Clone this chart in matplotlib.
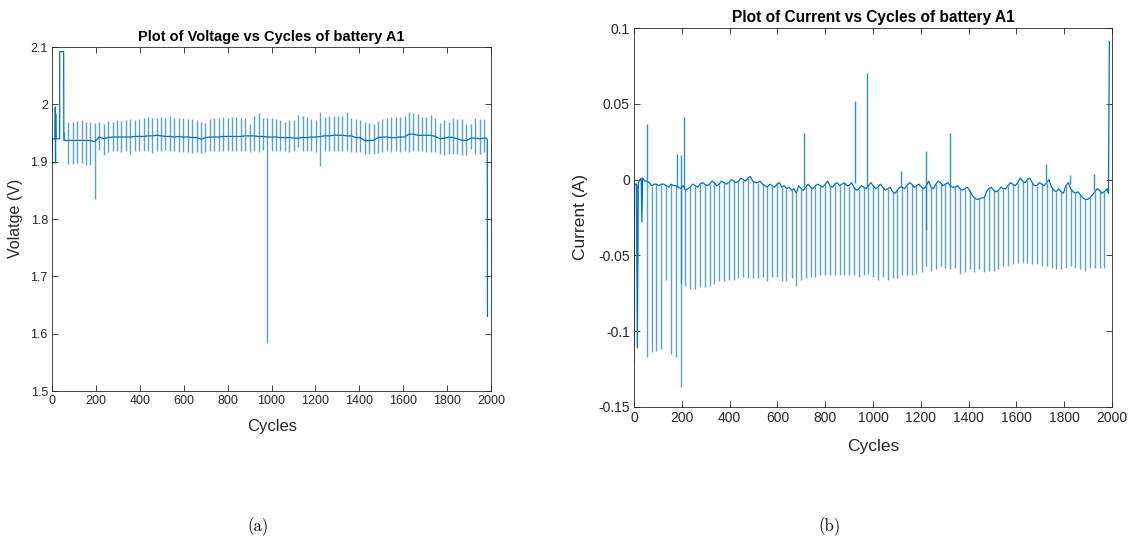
import numpy as np
import matplotlib
matplotlib.use("Agg")
import matplotlib.pyplot as plt
from matplotlib.ticker import FuncFormatter

# ---------------- data ----------------
spike_cycles = [54, 74, 94, 114, 135, 155, 175, 195, 215, 235, 256, 276, 296, 316, 336, 356,
                376, 397, 417, 437, 457, 477, 497, 517, 538, 558, 578, 598, 618, 638, 659, 679,
                699, 719, 739, 759, 779, 800, 820, 840, 860, 880, 900, 920, 941, 961, 981, 1001,
                1021, 1041, 1062, 1082, 1102, 1122, 1142, 1162, 1182, 1203, 1223, 1243, 1263, 1283,
                1303, 1323, 1344, 1364, 1384, 1404, 1424, 1444, 1465, 1485, 1505, 1525, 1545, 1565,
                1585, 1606, 1626, 1646, 1666, 1686, 1706, 1726, 1747, 1767, 1787, 1807, 1827, 1847,
                1868, 1888, 1908, 1928, 1948, 1968]

# Voltage: baseline at each spike cycle, spike top and spike bottom
volt_base = [1.937, 1.937, 1.937, 1.937, 1.937, 1.937, 1.937, 1.935, 1.943, 1.940, 1.942, 1.943,
             1.943, 1.943, 1.943, 1.943, 1.944, 1.944, 1.944, 1.945, 1.945, 1.946, 1.945, 1.944,
             1.944, 1.943, 1.944, 1.943, 1.943, 1.942, 1.942, 1.939, 1.942, 1.943, 1.943, 1.943,
             1.944, 1.944, 1.944, 1.944, 1.944, 1.945, 1.945, 1.945, 1.944, 1.944, 1.943, 1.943,
             1.943, 1.942, 1.942, 1.942, 1.941, 1.941, 1.942, 1.942, 1.943, 1.943, 1.944, 1.945,
             1.945, 1.946, 1.946, 1.946, 1.945, 1.945, 1.942, 1.942, 1.937, 1.937, 1.937, 1.942,
             1.943, 1.943, 1.942, 1.942, 1.943, 1.943, 1.948, 1.948, 1.946, 1.946, 1.946, 1.946,
             1.944, 1.940, 1.941, 1.943, 1.942, 1.940, 1.937, 1.937, 1.941, 1.941, 1.940, 1.941]
volt_high = [1.952, 1.969, 1.970, 1.971, 1.972, 1.970, 1.969, 1.968, 1.970, 1.966, 1.971, 1.970,
             1.972, 1.971, 1.973, 1.974, 1.972, 1.975, 1.976, 1.978, 1.976, 1.977, 1.978, 1.977,
             1.979, 1.976, 1.977, 1.976, 1.975, 1.974, 1.972, 1.969, 1.967, 1.975, 1.976, 1.977,
             1.978, 1.977, 1.978, 1.978, 1.977, 1.976, 1.966, 1.979, 1.985, 1.976, 1.977, 1.977,
             1.975, 1.972, 1.970, 1.972, 1.973, 1.981, 1.979, 1.978, 1.975, 1.972, 1.986, 1.978,
             1.979, 1.980, 1.979, 1.980, 1.986, 1.977, 1.975, 1.972, 1.970, 1.968, 1.966, 1.971,
             1.975, 1.976, 1.978, 1.978, 1.978, 1.980, 1.987, 1.985, 1.984, 1.978, 1.978, 1.981,
             1.976, 1.968, 1.973, 1.970, 1.977, 1.974, 1.974, 1.965, 1.966, 1.977, 1.974, 1.974]
volt_low = [1.937, 1.896, 1.896, 1.897, 1.898, 1.895, 1.894, 1.835, 1.921, 1.912, 1.916, 1.918,
            1.918, 1.917, 1.918, 1.914, 1.918, 1.919, 1.918, 1.918, 1.915, 1.919, 1.919, 1.920,
            1.918, 1.918, 1.917, 1.916, 1.917, 1.915, 1.916, 1.915, 1.917, 1.918, 1.918, 1.919,
            1.918, 1.918, 1.919, 1.919, 1.918, 1.918, 1.917, 1.918, 1.917, 1.920, 1.583, 1.918,
            1.918, 1.918, 1.919, 1.917, 1.918, 1.925, 1.918, 1.918, 1.918, 1.917, 1.893, 1.918,
            1.918, 1.919, 1.918, 1.918, 1.919, 1.917, 1.917, 1.916, 1.914, 1.913, 1.914, 1.915,
            1.917, 1.918, 1.917, 1.918, 1.917, 1.918, 1.917, 1.918, 1.918, 1.918, 1.916, 1.917,
            1.917, 1.913, 1.912, 1.914, 1.913, 1.913, 1.912, 1.911, 1.922, 1.914, 1.913, 1.916]
volt_head_cycles = [0, 2, 14, 15, 16, 17, 18, 35, 35, 53]
volt_head_values = [1.906, 1.940, 1.940, 1.995, 1.898, 1.983, 1.940, 1.940, 2.092, 2.092]
volt_tail_cycles = [1980, 1983, 1984]
volt_tail_values = [1.941, 1.938, 1.630]

# Current: baseline at each spike cycle, spike bottom, and baseline between spikes
curr_base = [-0.001, -0.004, -0.003, -0.003, -0.004, -0.003, -0.004, -0.006, -0.007, -0.005,
             -0.004, -0.003, -0.003, -0.003, -0.002, -0.003, -0.002, -0.002, -0.001, -0.001,
             0.000, 0.001, -0.001, -0.002, -0.003, -0.005, -0.004, -0.003, -0.005, -0.006,
             -0.007, -0.009, -0.006, -0.005, -0.005, -0.004, -0.004, -0.003, -0.004, -0.003,
             -0.004, -0.002, -0.004, -0.005, -0.006, -0.005, -0.004, -0.004, -0.005, -0.005,
             -0.006, -0.008, -0.007, -0.005, -0.004, -0.003, -0.004, -0.005, -0.004, -0.005,
             -0.003, -0.002, -0.003, -0.004, -0.005, -0.006, -0.006, -0.007, -0.012, -0.013,
             -0.012, -0.006, -0.007, -0.007, -0.006, -0.004, -0.003, -0.002, -0.001, 0.000,
             -0.002, -0.004, -0.003, -0.002, -0.005, -0.008, -0.008, -0.004, -0.006, -0.009,
             -0.010, -0.013, -0.012, -0.008, -0.007, -0.008]
curr_mid = [-0.002, -0.003, -0.004, -0.003, -0.005, -0.004, -0.005, -0.004, -0.006, -0.003,
            -0.005, -0.002, -0.004, -0.001, -0.004, -0.001, -0.003, 0.000, -0.002, 0.001,
            -0.001, 0.002, -0.002, -0.001, -0.004, -0.003, -0.005, -0.002, -0.004, -0.005,
            -0.006, -0.004, -0.007, -0.003, -0.006, -0.003, -0.005, -0.001, -0.005, -0.002,
            -0.003, -0.004, -0.002, -0.007, -0.004, -0.006, -0.002, -0.006, -0.003, -0.007,
            -0.005, -0.009, -0.005, -0.006, -0.002, -0.005, -0.003, -0.006, -0.001, -0.006,
            -0.001, -0.004, -0.002, -0.005, -0.004, -0.007, -0.005, -0.010, -0.013, -0.012,
            -0.008, -0.005, -0.008, -0.005, -0.006, -0.002, -0.004, 0.001, -0.002, 0.001,
            -0.004, -0.002, -0.004, 0.000, -0.007, -0.006, -0.009, -0.002, -0.008, -0.008,
            -0.012, -0.013, -0.010, -0.006, -0.009]
curr_low = [-0.117, -0.114, -0.113, -0.112, -0.066, -0.115, -0.117, -0.137, -0.070, -0.072,
            -0.072, -0.071, -0.071, -0.070, -0.069, -0.067, -0.067, -0.066, -0.066, -0.065,
            -0.064, -0.065, -0.065, -0.065, -0.064, -0.067, -0.064, -0.064, -0.067, -0.067,
            -0.065, -0.070, -0.066, -0.065, -0.064, -0.064, -0.063, -0.063, -0.063, -0.063,
            -0.063, -0.063, -0.063, -0.063, -0.064, -0.063, -0.062, -0.064, -0.066, -0.064,
            -0.066, -0.065, -0.065, -0.063, -0.063, -0.063, -0.062, -0.061, -0.057, -0.060,
            -0.059, -0.057, -0.058, -0.059, -0.058, -0.062, -0.061, -0.059, -0.061, -0.059,
            -0.061, -0.060, -0.060, -0.059, -0.057, -0.057, -0.056, -0.055, -0.055, -0.055,
            -0.056, -0.056, -0.057, -0.057, -0.058, -0.059, -0.059, -0.058, -0.057, -0.058,
            -0.059, -0.060, -0.058, -0.058, -0.058, -0.058]
curr_head_cycles = [0, 2, 10, 14, 18, 25, 30, 33, 36, 45, 50]
curr_head_values = [-0.120, -0.003, -0.003, -0.111, -0.002, 0.000, 0.001, -0.028, 0.001, -0.001, -0.001]
curr_extra_cycles = [14, 197, 1223]
curr_extra_low = [-0.057, -0.068, -0.033]
curr_extra_foot = [-0.003, -0.006, -0.004]
curr_up_cycles = [54, 181, 196, 209, 711, 925, 973, 1117, 1223, 1323, 1724, 1823, 1923]
curr_up_values = [0.037, 0.017, 0.016, 0.041, 0.031, 0.052, 0.070, 0.006, 0.019, 0.031, 0.010, 0.003, 0.004]
curr_up_foot = [-0.001, -0.005, -0.006, -0.006, -0.005, -0.002, -0.004, -0.005, -0.004, -0.005, -0.001, -0.003, -0.007]
curr_tail_cycles = [1980, 1985, 1989]
curr_tail_values = [-0.006, -0.009, 0.091]

volt_ticks = [1.5, 1.6, 1.7, 1.8, 1.9, 2.0, 2.1]
curr_ticks = [-0.15, -0.1, -0.05, 0, 0.05, 0.1]
cycle_ticks = [0, 200, 400, 600, 800, 1000, 1200, 1400, 1600, 1800, 2000]

# ---------------- figure ----------------
W, H = 1138, 543
fig = plt.figure(figsize=(W / 100, H / 100), dpi=100)
plt.rcParams['font.family'] = ['Liberation Sans', 'DejaVu Sans']

BLUE = '#0072BD'
AX_C = '#262626'


def ax_rect(l, t, r, b):
    return [l / W, 1 - b / H, (r - l) / W, (b - t) / H]


def style(ax, fs):
    for s in ax.spines.values():
        s.set_color(AX_C)
        s.set_linewidth(0.6)
    ax.tick_params(direction='in', top=True, right=True, length=4, width=0.6,
                   colors=AX_C, labelsize=fs, pad=3)
    ax.yaxis.set_major_formatter(FuncFormatter(lambda v, p: f"{v:g}"))
    ax.xaxis.set_major_formatter(FuncFormatter(lambda v, p: f"{v:g}"))


# Voltage axes
ax1 = fig.add_axes(ax_rect(52, 47, 491, 391))
vx = volt_head_cycles + spike_cycles + volt_tail_cycles
vy = volt_head_values + volt_base + volt_tail_values
ax1.vlines(spike_cycles, volt_low, volt_high, color=BLUE, lw=1.0, alpha=0.65)
ax1.plot(vx, vy, color=BLUE, lw=0.9)
ax1.set_xlim(0, 2000)
ax1.set_ylim(1.5, 2.1)
ax1.set_xticks(cycle_ticks)
ax1.set_yticks(volt_ticks)
style(ax1, 9)
ax1.set_title('Plot of Voltage vs Cycles of battery A1', fontsize=10.5, fontweight='bold', pad=4, color='black')

# Current axes
ax2 = fig.add_axes(ax_rect(634, 28, 1112, 407))
sc = np.array(spike_cycles)
mid_cycles = list((sc[:-1] + sc[1:]) / 2.0)
all_x = np.array(curr_head_cycles + spike_cycles + mid_cycles + curr_tail_cycles, dtype=float)
all_y = np.array(curr_head_values + curr_base + curr_mid + curr_tail_values)
order = np.argsort(all_x, kind='stable')
ax2.vlines(spike_cycles, curr_low, curr_base, color=BLUE, lw=1.0, alpha=0.65)
ax2.vlines(curr_extra_cycles, curr_extra_low, curr_extra_foot, color=BLUE, lw=1.0, alpha=0.65)
ax2.vlines(curr_up_cycles, curr_up_foot, curr_up_values, color=BLUE, lw=1.0, alpha=0.8)
ax2.plot(all_x[order], all_y[order], color=BLUE, lw=0.9)
ax2.set_xlim(0, 2000)
ax2.set_ylim(-0.15, 0.1)
ax2.set_xticks(cycle_ticks)
ax2.set_yticks(curr_ticks)
style(ax2, 10)
ax2.set_title('Plot of Current vs Cycles of battery A1', fontsize=11.2, fontweight='bold', pad=4, color='black')

# Axis labels
fig.text(272 / W, 1 - 427 / H, 'Cycles', ha='center', va='center', fontsize=12, color=AX_C)
fig.text(16 / W, 1 - 218 / H, 'Volatge (V)', ha='center', va='center', rotation=90, fontsize=11.5, color=AX_C)
fig.text(873 / W, 1 - 446 / H, 'Cycles', ha='center', va='center', fontsize=12.5, color=AX_C)
fig.text(581 / W, 1 - 217 / H, 'Current (A)', ha='center', va='center', rotation=90, fontsize=12.5, color=AX_C)

# Sub-captions
fig.text(258 / W, 1 - 527 / H, '(a)', ha='center', va='center', fontsize=12, family=['cmr10', 'DejaVu Serif'])
fig.text(829 / W, 1 - 527 / H, '(b)', ha='center', va='center', fontsize=12, family=['cmr10', 'DejaVu Serif'])

fig.savefig('out.png', dpi=100)
